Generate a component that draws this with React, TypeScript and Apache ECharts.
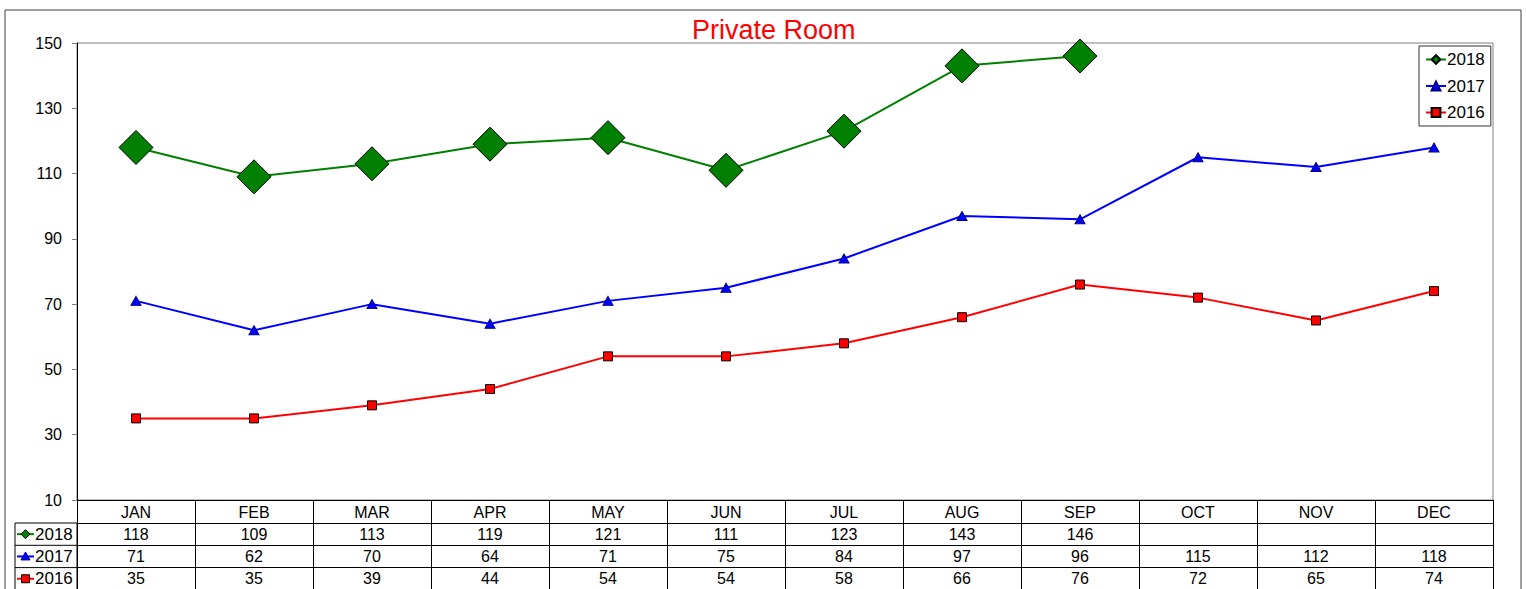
import React, { useEffect, useRef } from "react";
import * as echarts from "echarts";

const months = ["JAN", "FEB", "MAR", "APR", "MAY", "JUN", "JUL", "AUG", "SEP", "OCT", "NOV", "DEC"];
const s2018: (number | null)[] = [118, 109, 113, 119, 121, 111, 123, 143, 146, null, null, null];
const s2017: (number | null)[] = [71, 62, 70, 64, 71, 75, 84, 97, 96, 115, 112, 118];
const s2016: (number | null)[] = [35, 35, 39, 44, 54, 54, 58, 66, 76, 72, 65, 74];
const seriesNames = ["2018", "2017", "2016"];
const yTicks = { min: 10, max: 150, interval: 20 };

const FONT = "'Liberation Sans', Arial, sans-serif";
const GREEN = "#008000";
const BLUE = "#0000FF";
const RED = "#FF0000";

export default function App() {
  const ref = useRef<HTMLDivElement>(null);
  useEffect(() => {
    if (!ref.current) return;
    const chart = echarts.init(ref.current, undefined, { renderer: "svg" });
    const gridLeft = 77;
    const gridTop = 43;
    const gridW = 1416;
    const gridH = 457;
    const rowH = 22.3;
    const tableRows = [s2018, s2017, s2016];

    const rowAxis = (vals: (number | null)[], idx: number) => ({
      type: "category",
      gridIndex: 0,
      position: "bottom",
      offset: 23 + rowH * idx,
      data: months,
      boundaryGap: true,
      axisLine: { show: true, lineStyle: { color: "#000", width: 1 } },
      axisTick: { show: true, length: rowH, interval: 0, lineStyle: { color: "#000" } },
      axisLabel: {
        show: true,
        interval: 0,
        margin: 3,
        color: "#000",
        fontSize: 16,
        fontFamily: FONT,
        formatter: (_v: string, i: number) => (vals[i] == null ? "" : String(vals[i])),
      },
      splitLine: { show: false },
    });

    const keyTop = gridTop + gridH + 23;
    const keyColors = [GREEN, BLUE, RED];
    const keyGraphics: any[] = [
      {
        type: "rect",
        shape: { x: 15, y: keyTop, width: gridLeft - 15, height: rowH * 3 + 5 },
        style: { fill: "none", stroke: "#000", lineWidth: 1 },
      },
    ];
    seriesNames.forEach((name, i) => {
      const cy = keyTop + rowH * i + rowH / 2;
      if (i > 0) {
        keyGraphics.push({
          type: "line",
          shape: { x1: 15, y1: keyTop + rowH * i, x2: gridLeft, y2: keyTop + rowH * i },
          style: { stroke: "#000", lineWidth: 1 },
        });
      }
      keyGraphics.push({
        type: "line",
        shape: { x1: 17, y1: cy, x2: 34, y2: cy },
        style: { stroke: keyColors[i], lineWidth: 2 },
      });
      if (i === 0) {
        keyGraphics.push({
          type: "polygon",
          shape: { points: [[25.5, cy - 4.5], [30, cy], [25.5, cy + 4.5], [21, cy]] },
          style: { fill: GREEN, stroke: "#000", lineWidth: 1 },
        });
      } else if (i === 1) {
        keyGraphics.push({
          type: "polygon",
          shape: { points: [[25.5, cy - 4.5], [30, cy + 3.5], [21, cy + 3.5]] },
          style: { fill: BLUE, stroke: "#000080", lineWidth: 1 },
        });
      } else {
        keyGraphics.push({
          type: "rect",
          shape: { x: 21.5, y: cy - 4, width: 8, height: 8 },
          style: { fill: RED, stroke: "#000", lineWidth: 1 },
        });
      }
      keyGraphics.push({
        type: "text",
        x: 35,
        y: cy,
        style: {
          text: name,
          fill: "#000",
          font: `17px ${FONT}`,
          textVerticalAlign: "middle",
          verticalAlign: "middle",
        },
      });
    });

    const option: any = {
      animation: false,
      backgroundColor: "#fff",
      title: {
        text: "Private Room",
        left: 692,
        top: 16,
        padding: 0,
        textStyle: { color: RED, fontSize: 27, fontWeight: "normal", fontFamily: FONT },
      },
      legend: {
        orient: "vertical",
        left: 1419,
        top: 46,
        width: 72,
        padding: [5, 6, 5, 6],
        itemGap: 9.5,
        itemWidth: 20,
        itemHeight: 11,
        borderColor: "#333",
        borderWidth: 1,
        backgroundColor: "#fff",
        data: seriesNames,
        textStyle: { color: "#000", fontSize: 17, fontFamily: FONT, lineHeight: 16, padding: [0, 0, 0, -4] },
      },
      grid: {
        left: gridLeft,
        top: gridTop,
        width: gridW,
        height: gridH,
        show: true,
        borderColor: "#808080",
        borderWidth: 1,
        backgroundColor: "transparent",
      },
      xAxis: [
        {
          type: "category",
          gridIndex: 0,
          position: "bottom",
          offset: 0,
          data: months,
          boundaryGap: true,
          axisLine: { show: true, lineStyle: { color: "#000", width: 1 } },
          axisTick: { show: true, length: 23, interval: 0, lineStyle: { color: "#000" } },
          axisLabel: { interval: 0, margin: 4, color: "#000", fontSize: 16, fontFamily: FONT },
          splitLine: { show: false },
        },
        ...tableRows.map((r, i) => rowAxis(r, i)),
      ],
      yAxis: {
        type: "value",
        min: yTicks.min,
        max: yTicks.max,
        interval: yTicks.interval,
        axisLine: { show: true, lineStyle: { color: "#000", width: 1 } },
        axisTick: { show: true, length: 5, lineStyle: { color: "#808080" } },
        axisLabel: { margin: 15, color: "#000", fontSize: 16, fontFamily: FONT },
        splitLine: { show: false },
      },
      graphic: [
        {
          type: "rect",
          silent: true,
          shape: { x: 5, y: 10, width: 1516, height: 600 },
          style: { fill: "none", stroke: "#404040", lineWidth: 1 },
          z: -10,
        },
        ...keyGraphics,
      ],
      series: [
        {
          name: "2016",
          type: "line",
          xAxisIndex: 0,
          data: s2016,
          symbol: "rect",
          symbolSize: 9,
          lineStyle: { color: RED, width: 2 },
          itemStyle: { color: RED, borderColor: "#000", borderWidth: 1 },
          z: 2,
        },
        {
          name: "2017",
          type: "line",
          xAxisIndex: 0,
          data: s2017,
          symbol: "triangle",
          symbolSize: [10, 9],
          lineStyle: { color: BLUE, width: 2 },
          itemStyle: { color: BLUE, borderColor: "#000080", borderWidth: 1 },
          z: 3,
        },
        {
          name: "2018",
          type: "line",
          xAxisIndex: 0,
          data: s2018,
          symbol: "diamond",
          symbolSize: 34,
          lineStyle: { color: GREEN, width: 2 },
          itemStyle: { color: GREEN, borderColor: "#000", borderWidth: 1 },
          z: 4,
        },
      ],
    };
    chart.setOption(option);
    return () => chart.dispose();
  }, []);
  return (
    <div
      ref={ref}
      style={{ position: "absolute", left: 0, top: 0, width: 1526, height: 600 }}
    />
  );
}
